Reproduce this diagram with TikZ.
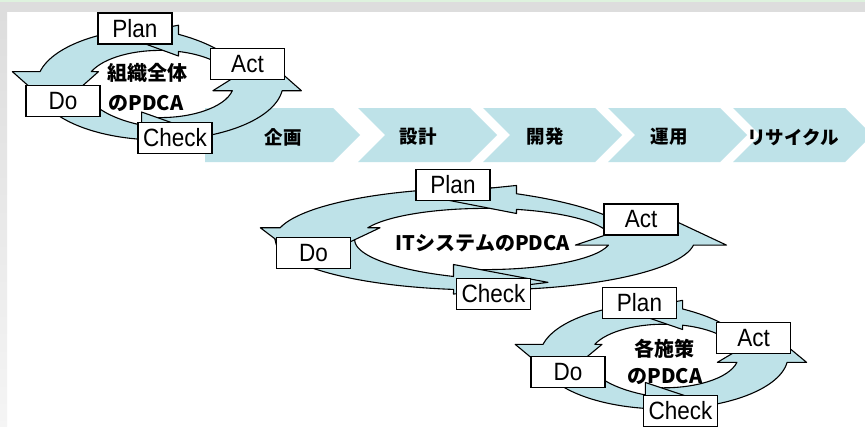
\documentclass[tikz,border=0pt]{standalone}
\usepackage{fontspec}
\setmainfont{Liberation Sans}
\newfontfamily\boxfont[FakeStretch=0.9]{Liberation Sans}
\newfontfamily\jp{Noto Sans CJK JP}
\definecolor{ltblue}{RGB}{190,226,232}
\definecolor{bggray}{RGB}{221,221,221}
\definecolor{topgreen}{RGB}{222,242,222}
\tikzset{
  ringpart/.style={fill=ltblue, draw=black, line width=1.1pt, line join=round},
  pbox/.style={draw=black, fill=white, line width=1.2pt, minimum width=74pt, minimum height=31pt, inner sep=0pt, font=\boxfont\fontsize{25}{25}\selectfont},
  clabel/.style={font=\jp\bfseries\fontsize{20}{22}\selectfont, inner sep=0pt},
  chevlabel/.style={font=\jp\bfseries\fontsize{18.5}{20}\selectfont, inner sep=0pt},
  chevshape/.style={fill=ltblue, draw=none}
}
% #1,#2 centre; #3,#4 radii; #5 x of the outer barb of the left arrow head
\newcommand\pdcaring[5]{%
  \begin{scope}[shift={(#1,#2)}, xscale=#3, yscale=-#4]
    % Check -> Act
    \path[ringpart] (264:0.6) -- (264:1) arc[start angle=264, end angle=353.1, radius=1]
      -- (1.15,-0.12) -- (0.85,0.46) -- (0.43,-0.12) -- (348.5:0.6)
      arc[start angle=348.5, end angle=264, radius=0.6] -- cycle;
    % Do -> Check
    \path[ringpart] (175:0.62) -- (175:1) arc[start angle=175, end angle=261.4, radius=1]
      -- (-0.15,-1.08) -- (0.3,-0.85) -- (-0.15,-0.5)
      -- plot[domain=258.46:175, samples=30, variable=\t]
        ({(0.62+0.13*((\t-175)/83.46)^2)*cos(\t)}, {(0.62+0.13*((\t-175)/83.46)^2)*sin(\t)})
      -- cycle;
    % Plan -> Do
    \path[ringpart] (84:0.6) -- (84:1) arc[start angle=84, end angle=167.3, radius=1]
      -- (#5,0.22) -- (-0.85,-0.46) -- (-0.5,0.22) -- (158.5:0.6)
      arc[start angle=158.5, end angle=84, radius=0.6] -- cycle;
    % Act -> Plan
    \path[ringpart] (20:0.6)
      -- plot[domain=20:80.4, samples=30, variable=\t]
        ({(0.72+0.18*((\t-20)/60.4)^2)*cos(\t)}, {(0.72+0.18*((\t-20)/60.4)^2)*sin(\t)})
      -- (0.15,1.05) -- (-0.3,0.86) -- (0.15,0.5) -- (75.5:0.6)
      arc[start angle=75.5, end angle=20, radius=0.6] -- cycle;
  \end{scope}}
\begin{document}
\begin{tikzpicture}[x=1pt,y=-1pt]
\useasboundingbox (0,0) rectangle (865,426);
\fill[white] (0,0) rectangle (865,426);
\fill[bggray] (0,0) rectangle (865,12);
\fill[topgreen] (0,0) rectangle (865,1.5);
\shade[top color=bggray, bottom color=white!96!black] (0,12) rectangle (7,426);

% process chevrons
\fill[chevshape] (205,108) -- (333,108) -- (360,135) -- (333,162) -- (205,162) -- cycle;
\foreach \x in {358,483,608,733}{
  \fill[chevshape] (\x,108) -- ++(112,0) -- ++(27,27) -- ++(-27,27) -- ++(-112,0) -- ++(27,-27) -- cycle;
}
\node[chevlabel] (s1) at (283,137) {企画};
\node[chevlabel] (s2) at (418,137) {設計};
\node[chevlabel] (s3) at (545,137) {開発};
\node[chevlabel] (s4) at (669,137) {運用};
\node[chevlabel] (s5) at (793,137) {リサイクル};

% cycle 1
\pdcaring{160}{84}{123}{56}{-1.2}
\node[clabel] (c1t1) at (147,73) {組織全体};
\node[clabel] (c1t2) at (146,103) {のPDCA};
\node[pbox] (c1p) at (135,28.5) {Plan};
\node[pbox] (c1a) at (247.5,64) {Act};
\node[pbox] (c1d) at (63,101) {Do};
\node[pbox] (c1c) at (175,138) {Check};

% cycle 2
\pdcaring{485}{239}{210}{51}{-1.07}
\node[clabel] (c2t) at (483,243) {ITシステムのPDCA};
\node[pbox] (c2p) at (453,185) {Plan};
\node[pbox] (c2a) at (641,219.5) {Act};
\node[pbox] (c2d) at (313.5,253) {Do};
\node[pbox] (c2c) at (493.5,294) {Check};

% cycle 3
\pdcaring{664}{356}{124}{53}{-1.2}
\node[clabel] (c3t1) at (664,349) {各施策};
\node[clabel] (c3t2) at (665,376) {のPDCA};
\node[pbox] (c3p) at (639.5,303) {Plan};
\node[pbox] (c3a) at (753.5,338) {Act};
\node[pbox] (c3d) at (568,372) {Do};
\node[pbox] (c3c) at (680.5,411) {Check};
\end{tikzpicture}
\end{document}
